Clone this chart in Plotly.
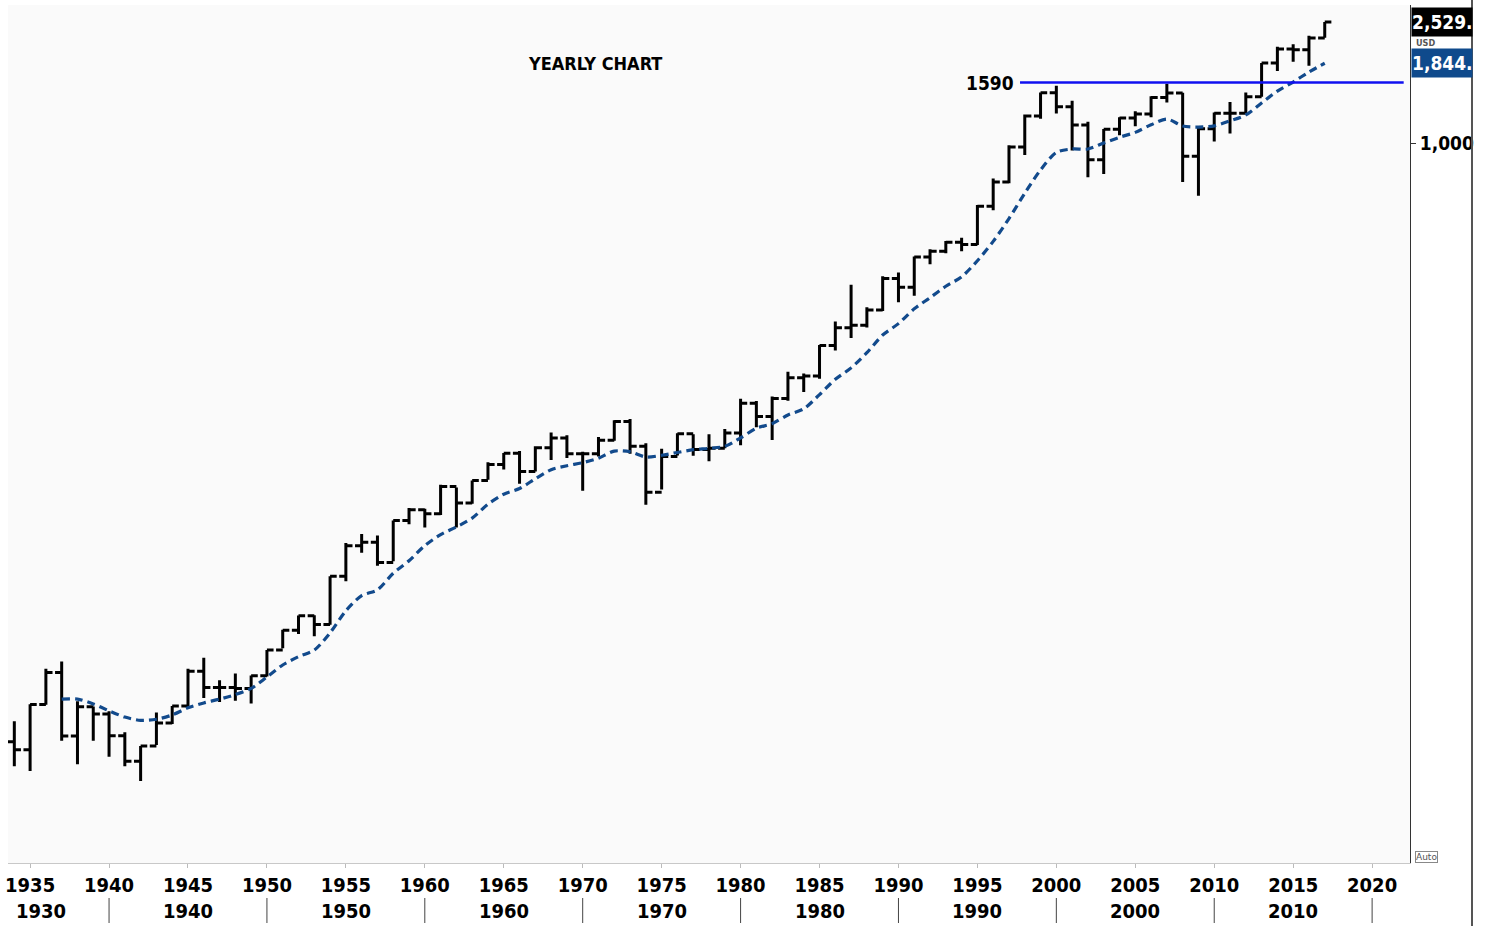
import plotly.graph_objects as go
import math

# ---------------- data ----------------
years = list(range(1934, 2018))
opens = [10.10, 9.50, 13.43, 17.18, 10.55, 13.21, 12.49, 10.58, 8.69, 9.77,
         11.67, 13.28, 17.36, 15.30, 15.30, 15.20, 16.76, 20.41, 23.77, 26.57,
         24.81, 35.98, 45.48, 46.67, 39.99, 55.21, 59.89, 58.11, 71.55, 63.10,
         75.02, 84.75, 92.43, 80.33, 96.47, 103.86, 92.06, 92.15, 102.09, 118.05,
         97.55, 68.56, 90.19, 107.46, 95.10, 96.11, 107.94, 135.76, 122.55, 140.64,
         164.93, 167.24, 211.28, 242.17, 247.08, 277.72, 353.40, 330.22, 417.09, 435.71,
         466.45, 459.27, 615.93, 740.74, 970.43, 1229.23, 1469.25, 1320.28, 1148.08, 879.82,
         1111.92, 1211.92, 1248.29, 1418.30, 1468.36, 903.25, 1115.10, 1257.64, 1257.60, 1426.19,
         1848.36, 2058.90, 2043.94, 2238.83]
highs = [11.82, 13.46, 17.69, 18.68, 13.79, 13.23, 12.77, 10.86, 9.77, 12.64,
         13.29, 17.68, 19.25, 16.20, 17.06, 16.79, 20.43, 23.85, 26.59, 26.66,
         35.98, 46.41, 49.74, 49.13, 55.21, 60.71, 60.39, 72.64, 71.13, 75.02,
         86.28, 92.63, 94.06, 97.59, 108.37, 106.16, 93.46, 104.77, 119.12, 120.24,
         99.80, 95.61, 107.83, 107.00, 106.99, 111.27, 140.52, 138.12, 143.02, 172.65,
         170.41, 212.02, 254.00, 336.77, 283.66, 359.80, 369.78, 418.32, 442.65, 471.29,
         482.85, 621.69, 762.12, 983.79, 1244.93, 1473.10, 1552.87, 1383.37, 1176.97, 1112.56,
         1217.90, 1275.80, 1431.81, 1576.09, 1471.77, 1130.38, 1262.60, 1370.58, 1474.51, 1849.44,
         2093.55, 2134.72, 2277.53, 2531.00]
lows = [8.36, 8.06, 13.40, 10.17, 8.50, 10.18, 8.99, 8.37, 7.47, 9.84,
        11.56, 13.21, 14.12, 13.71, 13.84, 13.55, 16.65, 20.69, 23.09, 22.71,
        24.80, 34.58, 43.11, 38.98, 40.33, 53.58, 52.30, 57.57, 52.32, 62.69,
        75.43, 81.60, 73.20, 80.38, 87.72, 89.20, 69.29, 90.16, 101.67, 92.16,
        62.28, 70.04, 90.90, 90.71, 86.90, 96.13, 98.22, 112.77, 102.42, 138.34,
        147.82, 163.68, 203.49, 223.92, 242.63, 275.31, 294.51, 309.35, 394.50, 429.05,
        435.86, 457.20, 597.29, 733.54, 912.83, 1205.46, 1254.07, 944.75, 768.63, 788.90,
        1060.72, 1136.15, 1219.29, 1363.98, 741.02, 666.79, 1010.91, 1074.77, 1258.86, 1426.19,
        1737.92, 1867.01, 1810.10, 2245.13]
closes = [9.50, 13.43, 17.18, 10.55, 13.21, 12.49, 10.58, 8.69, 9.77, 11.67,
          13.28, 17.36, 15.30, 15.30, 15.20, 16.76, 20.41, 23.77, 26.57, 24.81,
          35.98, 45.48, 46.67, 39.99, 55.21, 59.89, 58.11, 71.55, 63.10, 75.02,
          84.75, 92.43, 80.33, 96.47, 103.86, 92.06, 92.15, 102.09, 118.05, 97.55,
          68.56, 90.19, 107.46, 95.10, 96.11, 107.94, 135.76, 122.55, 140.64, 164.93,
          167.24, 211.28, 242.17, 247.08, 277.72, 353.40, 330.22, 417.09, 435.71, 466.45,
          459.27, 615.93, 740.74, 970.43, 1229.23, 1469.25, 1320.28, 1148.08, 879.82, 1111.92,
          1211.92, 1248.29, 1418.30, 1468.36, 903.25, 1115.10, 1257.64, 1257.60, 1426.19, 1848.36,
          2058.90, 2043.94, 2238.83, 2529.12]

ma_years = list(range(1937, 2018))
ma_values = [14.0, 14.0, 13.5, 12.8, 12.2, 11.9, 12.0, 12.4, 13.1, 13.6,
             14.0, 14.5, 15.2, 16.6, 18.2, 19.4, 20.4, 23.3, 27.6, 31.0,
             32.4, 36.8, 40.5, 45.5, 49.5, 52.5, 56.2, 62.5, 67.5, 70.5,
             76.0, 81.5, 84.0, 86.0, 89.0, 94.0, 93.5, 89.8, 91.0, 93.0,
             95.0, 96.0, 97.5, 104, 112, 116, 124, 130, 145, 163,
             178, 200, 229, 250, 280, 305, 333, 358, 405, 470,
             560, 680, 813, 930, 955, 955, 1000, 1045, 1085, 1150,
             1202, 1140, 1130, 1140, 1185, 1240, 1360, 1490, 1597, 1724,
             1844]

assert len(opens) == len(highs) == len(lows) == len(closes) == len(years)
assert len(ma_values) == len(ma_years)

level_value = 1590
level_x = [1997.7, 2022.0]
last_price = 2529.12
ma_last = 1844

tick_years = list(range(1935, 2021, 5))
decade_labels = ["1930", "1940", "1950", "1960", "1970", "1980", "1990", "2000", "2010"]
decade_label_x = [1935.7, 1945, 1955, 1965, 1975, 1985, 1995, 2005, 2015]
decade_sep = list(range(1940, 2021, 10))

FONT = "DejaVu Sans Condensed, Liberation Sans Narrow, sans-serif"

W, H = 1488, 926
ML, MR, MT, MB = 8, 78, 5, 63
PW, PH = W - ML - MR, H - MT - MB


def py(pix):
    return 1 - (pix - MT) / PH


def px(pix):
    return (pix - ML) / PW


fig = go.Figure()

fig.add_trace(go.Ohlc(
    x=years, open=opens, high=highs, low=lows, close=closes,
    increasing=dict(line=dict(color="black", width=3)),
    decreasing=dict(line=dict(color="black", width=3)),
    tickwidth=0.42, hoverinfo="skip", showlegend=False,
))

fig.add_trace(go.Scatter(
    x=ma_years, y=ma_values, mode="lines",
    line=dict(color="#124a8c", width=3.2, dash="8px,5px", shape="spline", smoothing=0.8),
    hoverinfo="skip", showlegend=False,
))

fig.add_trace(go.Scatter(
    x=level_x, y=[level_value, level_value], mode="lines",
    line=dict(color="#1010f0", width=2.5),
    hoverinfo="skip", showlegend=False,
))

shapes = []
for d in decade_sep:
    shapes.append(dict(type="line", xref="x", yref="paper", x0=d, x1=d,
                       y0=py(898), y1=py(923), line=dict(color="#444", width=1)))
# right frame line
shapes.append(dict(type="line", xref="paper", yref="paper", x0=px(1472), x1=px(1472),
                   y0=py(926), y1=py(0), line=dict(color="#555", width=2)))

annotations = [
    dict(text="YEARLY CHART", xref="paper", yref="paper", x=px(595), y=py(63),
         yanchor="middle", showarrow=False,
         font=dict(family=FONT, size=18, color="black", weight=700)),
    dict(text="1590", xref="x", yref="y", x=level_x[0], y=math.log10(level_value),
         xanchor="right", yanchor="middle", xshift=-4, showarrow=False,
         font=dict(family=FONT, size=19, color="black", weight=700)),
    dict(text="2,529.", xref="paper", yref="paper", x=1.0, y=py(21.5),
         xanchor="left", yanchor="middle", xshift=1, showarrow=False,
         bgcolor="black", width=60, height=28, align="left", borderpad=0,
         font=dict(family=FONT, size=19, color="white", weight=700)),
    dict(text="USD", xref="paper", yref="paper", x=px(1414), y=py(43),
         xanchor="left", yanchor="middle", showarrow=False,
         font=dict(family=FONT, size=9, color="#555", weight=700)),
    dict(text="1,844.", xref="paper", yref="y", x=1.0, y=math.log10(ma_last),
         xanchor="left", yanchor="middle", xshift=1, showarrow=False,
         bgcolor="#0f4a8c", width=60, height=28, align="left", borderpad=0,
         font=dict(family=FONT, size=19, color="white", weight=700)),
    dict(text="Auto", xref="paper", yref="paper", x=px(1415), y=py(857),
         xanchor="left", yanchor="middle", showarrow=False, bgcolor="white",
         bordercolor="#888", borderwidth=1, borderpad=0,
         font=dict(family="DejaVu Sans", size=9, color="#555")),
]
for lab, xv in zip(decade_labels, decade_label_x):
    annotations.append(dict(text=lab, xref="x", yref="paper", x=xv, y=py(911),
                            showarrow=False, yanchor="middle",
                            font=dict(family=FONT, size=20, color="black", weight=700)))

fig.update_layout(
    width=W, height=H,
    margin=dict(l=ML, r=MR, t=MT, b=MB),
    paper_bgcolor="white", plot_bgcolor="#fafafa",
    showlegend=False,
    shapes=shapes, annotations=annotations,
    xaxis=dict(
        range=[1933.6, 2022.4], rangeslider=dict(visible=False),
        tickvals=tick_years, ticktext=[str(y) for y in tick_years],
        ticks="outside", ticklen=4, tickcolor="#bbb",
        showline=True, linecolor="#c8c8c8", linewidth=1,
        showgrid=False, zeroline=False,
        tickfont=dict(family=FONT, size=20, color="black", weight=700),
    ),
    yaxis=dict(
        type="log", range=[0.6, 3.46], side="right",
        tickvals=[1000], ticktext=["1,000"],
        ticks="outside", ticklen=5, tickcolor="#333",
        showline=True, linecolor="#333", linewidth=1,
        showgrid=False, zeroline=False,
        tickfont=dict(family=FONT, size=19, color="black", weight=700),
    ),
)

fig.write_html("out.html", config={"displayModeBar": False},
               post_script="document.body.style.margin='0';document.body.style.padding='0';")
